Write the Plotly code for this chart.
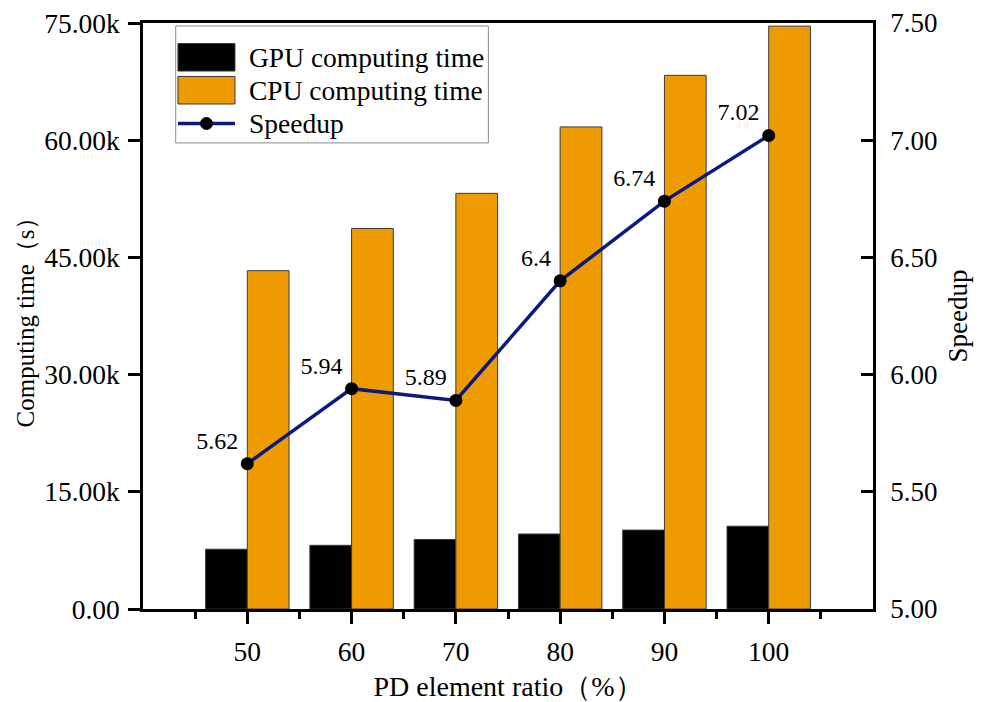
import plotly.graph_objects as go

# ---- data ----
ratios = [50, 60, 70, 80, 90, 100]
gpu_time = [7650, 8150, 8900, 9600, 10100, 10600]
cpu_time = [43300, 48700, 53200, 61700, 68300, 74600]
speedup = [5.62, 5.94, 5.89, 6.40, 6.74, 7.02]
speedup_labels = ["5.62", "5.94", "5.89", "6.4", "6.74", "7.02"]
left_ticks = [0, 15000, 30000, 45000, 60000, 75000]
left_ticktext = ["0.00", "15.00k", "30.00k", "45.00k", "60.00k", "75.00k"]
right_ticks = [5.0, 5.5, 6.0, 6.5, 7.0, 7.5]
minor_ticks = [45, 55, 65, 75, 85, 95, 105]

FONT = "Liberation Serif, Times New Roman, serif"
GPU_COLOR = "#000000"
CPU_COLOR = "#ED9B00"
LINE_COLOR = "#0B1A80"
EDGE = "#3a3a3a"

fig = go.Figure()
fig.add_trace(go.Bar(x=ratios, y=gpu_time, name="GPU computing time",
                     width=4, offset=-4, marker=dict(color=GPU_COLOR, line=dict(color=EDGE, width=1)),
                     showlegend=False))
fig.add_trace(go.Bar(x=ratios, y=cpu_time, name="CPU computing time",
                     width=4, offset=0, marker=dict(color=CPU_COLOR, line=dict(color=EDGE, width=1)),
                     showlegend=False))
fig.add_trace(go.Scatter(x=ratios, y=speedup, yaxis="y2", name="Speedup",
                         mode="lines+markers+text", text=speedup_labels,
                         textposition="top left",
                         textfont=dict(family=FONT, size=24, color="black"),
                         line=dict(color=LINE_COLOR, width=3.5),
                         marker=dict(color="black", size=13),
                         showlegend=False, cliponaxis=False))

axis_common = dict(showline=True, linecolor="black", linewidth=2.5, showgrid=False,
                   zeroline=False, tickcolor="black", tickwidth=2.5, ticklen=12,
                   automargin=False)

fig.update_layout(
    width=982, height=702,
    margin=dict(l=143, r=109, t=23, b=93),
    plot_bgcolor="white", paper_bgcolor="white",
    barmode="overlay",
    font=dict(family=FONT, color="black"),
    xaxis=dict(**axis_common, range=[40, 110], tickmode="array", tickvals=ratios,
               ticks="outside", mirror=True,
               tickfont=dict(size=27.5), ticklabelstandoff=4,
               minor=dict(tickmode="array", tickvals=minor_ticks, ticks="outside",
                          ticklen=7, tickwidth=2.5, tickcolor="black"),
               title=dict(text="PD element ratio（%）", font=dict(size=28), standoff=11)),
    yaxis=dict(**axis_common, range=[0, 75000], tickmode="array", tickvals=left_ticks,
               ticktext=left_ticktext, ticks="outside",
               tickfont=dict(size=27.5), ticklabelstandoff=3,
               title=dict(text="Computing time（s）", font=dict(size=25), standoff=3)),
    yaxis2=dict(**axis_common, range=[5, 7.5], tickmode="array", tickvals=right_ticks,
                tickformat=".2f", ticks="inside", side="right", overlaying="y",
                tickfont=dict(size=27), ticklabelstandoff=9,
                title=dict(text="Speedup", font=dict(size=27), standoff=12)),
)

# ---- custom legend (matching the large swatches of the original) ----
names = ["GPU computing time", "CPU computing time", "Speedup"]
fig.add_shape(type="rect", xref="paper", yref="paper", x0=0.0448, x1=0.4731, y0=0.7954, y1=0.9949,
              line=dict(color="#8a8a8a", width=1), fillcolor="white", layer="above")
sw_x0, sw_x1 = 0.0479, 0.1260
row_y = [0.9415, 0.8853, 0.8285]
for name, color, yc in zip(names[:2], [GPU_COLOR, CPU_COLOR], row_y[:2]):
    fig.add_shape(type="rect", xref="paper", yref="paper", x0=sw_x0, x1=sw_x1,
                  y0=yc - 0.0235, y1=yc + 0.0235, fillcolor=color,
                  line=dict(color=EDGE, width=1), layer="above")
fig.add_shape(type="line", xref="paper", yref="paper", x0=sw_x0, x1=sw_x1,
              y0=row_y[2], y1=row_y[2], line=dict(color=LINE_COLOR, width=3.5), layer="above")
fig.add_shape(type="circle", xref="paper", yref="paper",
              x0=(sw_x0 + sw_x1) / 2 - 6 / 730, x1=(sw_x0 + sw_x1) / 2 + 6 / 730,
              y0=row_y[2] - 6 / 586.6, y1=row_y[2] + 6 / 586.6,
              fillcolor="black", line=dict(color="black", width=1), layer="above")
for name, yc in zip(names, row_y):
    fig.add_annotation(xref="paper", yref="paper", x=0.1418, y=yc, text=name,
                       showarrow=False, xanchor="left", yanchor="middle",
                       font=dict(family=FONT, size=27.5, color="black"))

fig.write_html("out.html")
